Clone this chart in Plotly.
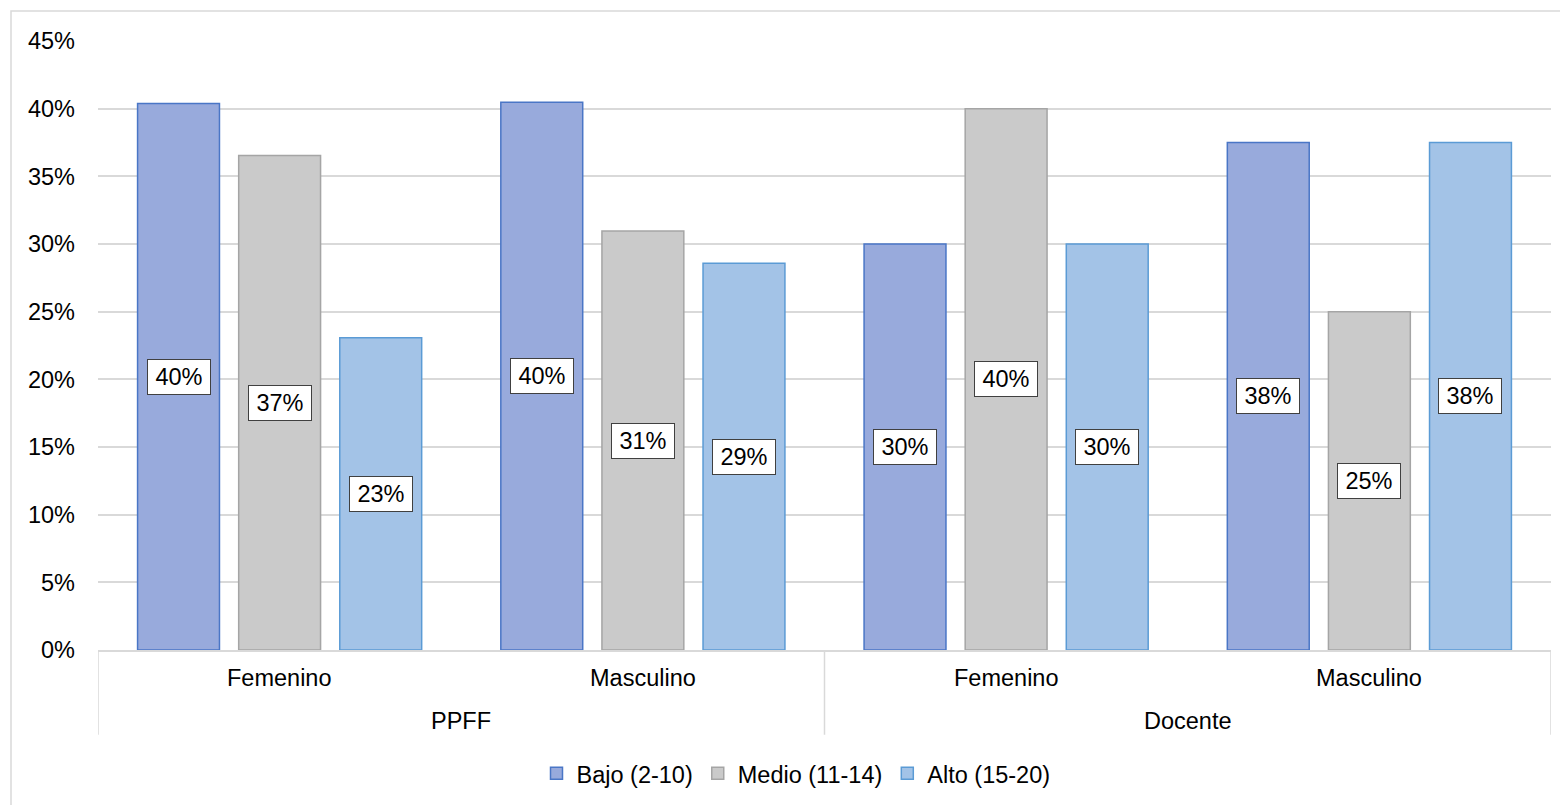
import math
import plotly.graph_objects as go

# Respondent group and sex for each cluster of bars
groups = ["PPFF", "PPFF", "Docente", "Docente"]
sexes = ["Femenino", "Masculino", "Femenino", "Masculino"]

# Share of each level per cluster
bajo = [21 / 52, 17 / 42, 3 / 10, 3 / 8]
medio = [19 / 52, 13 / 42, 4 / 10, 2 / 8]
alto = [12 / 52, 12 / 42, 3 / 10, 3 / 8]

series_names = ["Bajo (2-10)", "Medio (11-14)", "Alto (15-20)"]
series_values = [bajo, medio, alto]
fill_colors = ["#98aadc", "#cacaca", "#a3c3e7"]
edge_colors = ["#4a76c6", "#a5a5a5", "#5b9bd5"]

y_ticks = [0.0, 0.05, 0.10, 0.15, 0.20, 0.25, 0.30, 0.35, 0.40, 0.45]

W, H = 1560, 805
M_L, M_R, M_T, M_B = 98, 9, 41, 153
BARGAP = 0.165
GROUPGAP = 0.19
FS = 23.5
GRID = "#d9d9d9"

font_family = "Liberation Sans, Arial, sans-serif"

plot_w = W - M_L - M_R
plot_h = H - M_T - M_B


def py(px):
    """Pixel row (from top of the page) to paper y."""
    return (M_T + plot_h - px) / plot_h


def px_x(px):
    """Pixel column to paper x."""
    return (px - M_L) / plot_w


fig = go.Figure()
for name, vals, fc, ec in zip(series_names, series_values, fill_colors, edge_colors):
    fig.add_trace(go.Bar(
        name=name,
        x=[groups, sexes],
        y=vals,
        marker=dict(color=fc, line=dict(color=ec, width=1.5)),
        hoverinfo="skip",
    ))


def pct_label(v):
    return f"{math.floor(v * 100 + 0.5)}%"


# Centered boxed value labels, placed on a hidden linear overlay axis
n_series = len(series_values)
slot = (1 - BARGAP) / n_series
annotations = []
for i, vals in enumerate(series_values):
    offset = -(1 - BARGAP) / 2 + slot * (i + 0.5)
    for j, v in enumerate(vals):
        annotations.append(dict(
            x=j + offset, y=v / 2, xref="x2", yref="y",
            text=pct_label(v), showarrow=False,
            font=dict(family=font_family, size=FS, color="#000000"),
            bgcolor="#ffffff", bordercolor="#404040", borderwidth=1,
            borderpad=5, width=52, height=24,
            xanchor="center", yanchor="middle",
        ))

# Two-level category labels under the axis
for j, s in enumerate(sexes):
    annotations.append(dict(
        x=j, y=py(680), xref="x2", yref="paper", text=s, showarrow=False,
        font=dict(family=font_family, size=FS, color="#000000"),
        xanchor="center", yanchor="middle",
    ))
group_names = list(dict.fromkeys(groups))
shapes = []
boundaries = [-0.5]
for g in group_names:
    idx = [j for j, gg in enumerate(groups) if gg == g]
    annotations.append(dict(
        x=(idx[0] + idx[-1]) / 2, y=py(723), xref="x2", yref="paper", text=g,
        showarrow=False, font=dict(family=font_family, size=FS, color="#000000"),
        xanchor="center", yanchor="middle",
    ))
    boundaries.append(idx[-1] + 0.5)
for b in boundaries:
    shapes.append(dict(
        type="line", xref="x2", yref="paper", x0=b, x1=b, y0=0, y1=py(737),
        line=dict(color=GRID, width=1.5),
    ))

# Outer chart border
shapes.append(dict(
    type="rect", xref="paper", yref="paper",
    x0=px_x(11), x1=px_x(W + 10), y0=py(11), y1=py(H + 10),
    line=dict(color=GRID, width=1.5), fillcolor="rgba(0,0,0,0)", layer="below",
))

# Fixed trace for the overlay axis so it spans the category range
fig.add_trace(go.Scatter(x=[-0.5, 3.5], y=[0, 0], xaxis="x2", mode="markers",
                         marker=dict(opacity=0), showlegend=False, hoverinfo="skip"))

fig.update_layout(
    width=W, height=H,
    margin=dict(l=M_L, r=M_R, t=M_T, b=M_B),
    paper_bgcolor="#ffffff", plot_bgcolor="#ffffff",
    barmode="group", bargap=BARGAP, bargroupgap=GROUPGAP,
    font=dict(family=font_family, size=FS, color="#000000"),
    xaxis=dict(
        type="multicategory",
        showline=True, linecolor=GRID, linewidth=1.5,
        showgrid=False, ticks="", showticklabels=False, showdividers=False,
    ),
    xaxis2=dict(overlaying="x", range=[-0.5, 3.5], visible=False, fixedrange=True),
    yaxis=dict(
        range=[0, 0.45], tickvals=y_ticks, tickformat=".0%",
        showgrid=True, gridcolor=GRID, gridwidth=1.5,
        zeroline=False, showline=False, ticks="",
        ticklabelstandoff=22,
        tickfont=dict(size=FS, color="#000000"),
    ),
    legend=dict(
        orientation="h", x=px_x(796), xanchor="center",
        y=py(776), yanchor="middle",
        font=dict(size=FS, color="#000000"),
        itemwidth=30, traceorder="normal",
    ),
    annotations=annotations,
    shapes=shapes,
)

fig.write_html("out.html")
